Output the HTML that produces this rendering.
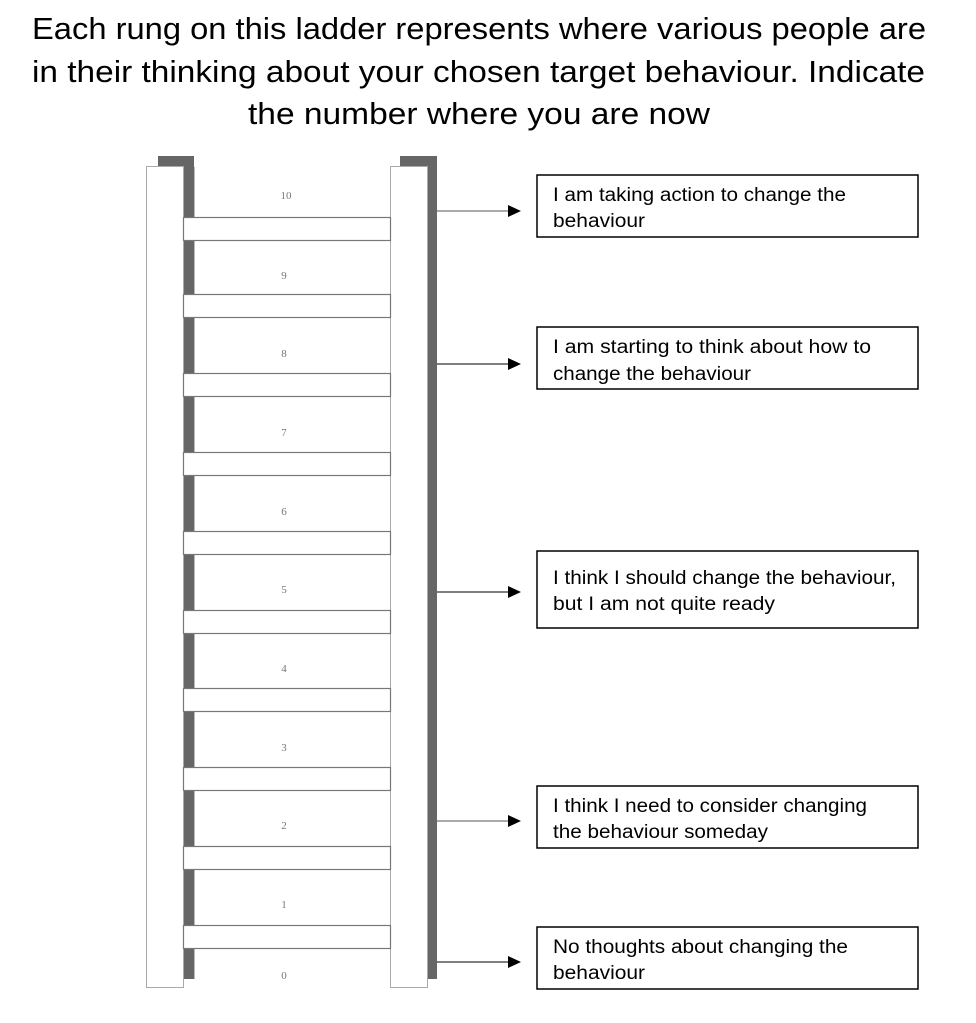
<!DOCTYPE html>
<html><head><meta charset="utf-8"><style>
html,body{margin:0;padding:0;background:#fff;}
body{width:976px;height:1018px;overflow:hidden;}
</style></head><body>
<svg width="976" height="1018" xmlns="http://www.w3.org/2000/svg" font-family="Liberation Sans, sans-serif">
<g font-size="31" fill="#000" lengthAdjust="spacingAndGlyphs">
<text x="32" y="39" textLength="894" lengthAdjust="spacingAndGlyphs">Each rung on this ladder represents where various people are</text>
<text x="32" y="82" textLength="893" lengthAdjust="spacingAndGlyphs">in their thinking about your chosen target behaviour. Indicate</text>
<text x="248" y="124" textLength="462" lengthAdjust="spacingAndGlyphs">the number where you are now</text>
</g>
<!-- dark back strips -->
<rect x="158" y="156" width="36" height="823" fill="#666"/>
<rect x="400" y="156" width="37" height="823" fill="#666"/>
<!-- rails -->
<rect x="146.5" y="166.5" width="37" height="821" fill="#fff" stroke="#aaa"/>
<rect x="390.5" y="166.5" width="37" height="821" fill="#fff" stroke="#aaa"/>
<rect x="194" y="167" width="196" height="812" fill="#fff"/>
<line x1="194.5" y1="167" x2="194.5" y2="979" stroke="#bbb"/>
<g fill="#fff" stroke="#777" stroke-width="1.2">
<rect x="183.5" y="217.5" width="207" height="23"/>
<rect x="183.5" y="294.5" width="207" height="23"/>
<rect x="183.5" y="373.5" width="207" height="23"/>
<rect x="183.5" y="452.5" width="207" height="23"/>
<rect x="183.5" y="531.5" width="207" height="23"/>
<rect x="183.5" y="610.5" width="207" height="23"/>
<rect x="183.5" y="688.5" width="207" height="23"/>
<rect x="183.5" y="767.5" width="207" height="23"/>
<rect x="183.5" y="846.5" width="207" height="23"/>
<rect x="183.5" y="925.5" width="207" height="23"/>
</g>
<g font-size="11" fill="#777" text-anchor="middle" font-family="Liberation Serif, serif">
<text x="286" y="199">10</text>
<text x="284" y="279">9</text>
<text x="284" y="357">8</text>
<text x="284" y="436">7</text>
<text x="284" y="515">6</text>
<text x="284" y="593">5</text>
<text x="284" y="672">4</text>
<text x="284" y="751">3</text>
<text x="284" y="829">2</text>
<text x="284" y="908">1</text>
<text x="284" y="979">0</text>
</g>
<g stroke="#555" stroke-width="1.5">
<line x1="437" y1="211" x2="510" y2="211" stroke="#aaa" stroke-width="2"/>
<line x1="437" y1="364" x2="510" y2="364"/>
<line x1="437" y1="592" x2="510" y2="592"/>
<line x1="437" y1="821" x2="510" y2="821" stroke="#aaa" stroke-width="2"/>
<line x1="437" y1="962" x2="510" y2="962"/>
</g>
<g fill="#000">
<polygon points="508,205 521,211 508,217"/>
<polygon points="508,358 521,364 508,370"/>
<polygon points="508,586 521,592 508,598"/>
<polygon points="508,815 521,821 508,827"/>
<polygon points="508,956 521,962 508,968"/>
</g>
<g fill="#fff" stroke="#000" stroke-width="1.5">
<rect x="537" y="175" width="381" height="62"/>
<rect x="537" y="327" width="381" height="62"/>
<rect x="537" y="551" width="381" height="77"/>
<rect x="537" y="786" width="381" height="62"/>
<rect x="537" y="927" width="381" height="62"/>
</g>
<g font-size="19" fill="#000">
<text x="553" y="201" textLength="293" lengthAdjust="spacingAndGlyphs">I am taking action to change the</text>
<text x="553" y="227" textLength="92" lengthAdjust="spacingAndGlyphs">behaviour</text>
<text x="553" y="353" textLength="318" lengthAdjust="spacingAndGlyphs">I am starting to think about how to</text>
<text x="553" y="380" textLength="198" lengthAdjust="spacingAndGlyphs">change the behaviour</text>
<text x="553" y="584" textLength="343" lengthAdjust="spacingAndGlyphs">I think I should change the behaviour,</text>
<text x="553" y="610" textLength="222" lengthAdjust="spacingAndGlyphs">but I am not quite ready</text>
<text x="553" y="812" textLength="314" lengthAdjust="spacingAndGlyphs">I think I need to consider changing</text>
<text x="553" y="838" textLength="215" lengthAdjust="spacingAndGlyphs">the behaviour someday</text>
<text x="553" y="953" textLength="295" lengthAdjust="spacingAndGlyphs">No thoughts about changing the</text>
<text x="553" y="979" textLength="92" lengthAdjust="spacingAndGlyphs">behaviour</text>
</g>
</svg>
</body></html>
